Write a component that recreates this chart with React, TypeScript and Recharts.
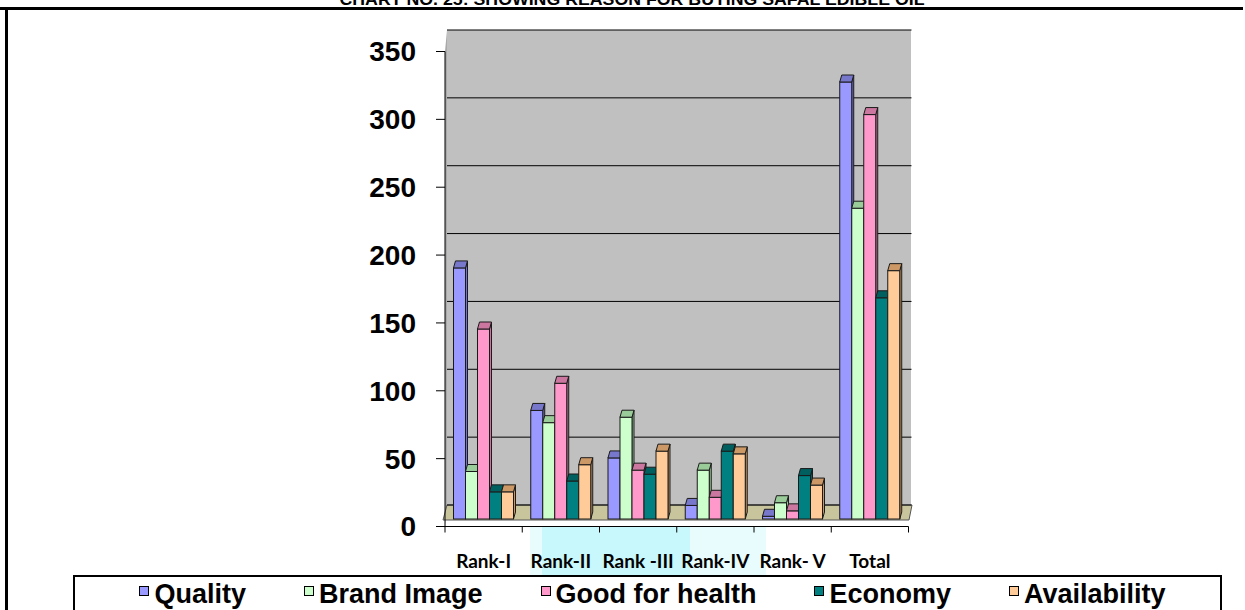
// Reason for buying Safal edible oil — clustered columns with a faux 3D look
// (grey back wall, tan floor, columns with a darker top cap).
import { Bar, BarChart, CartesianGrid, Legend, XAxis, YAxis } from 'recharts'

const categories = ['Rank-I', 'Rank-II', 'Rank -III', 'Rank-IV', 'Rank- V', 'Total']
const quality = [185, 80, 45, 10, 2, 322]
const brandImage = [35, 71, 75, 36, 12, 229]
const goodForHealth = [140, 100, 36, 16, 6, 298]
const economy = [20, 28, 33, 50, 32, 163]
const availability = [20, 40, 50, 48, 25, 183]
const yTicks = [0, 50, 100, 150, 200, 250, 300, 350]

const data = categories.map((name, i) => ({
  name,
  quality: quality[i],
  brand: brandImage[i],
  health: goodForHealth[i],
  economy: economy[i],
  avail: availability[i],
}))

// face colour + darker cap colour, same palette as the old Excel 3D chart
const SERIES = [
  { key: 'quality', name: 'Quality', face: '#9999ff', top: '#7777cc' },
  { key: 'brand', name: 'Brand Image', face: '#ccffcc', top: '#99cc99' },
  { key: 'health', name: 'Good for health', face: '#ff99cc', top: '#cc779f' },
  { key: 'economy', name: 'Economy', face: '#008080', top: '#006060' },
  { key: 'avail', name: 'Availability', face: '#ffcc99', top: '#cc9966' },
]
const ORDER = SERIES.map((s) => s.name)

const LIFT = 7.5 // columns stand on the floor, a bit above the axis line
const DX = 2 // depth of the cap
const DY = 7
const WALL_DX = 2
const WALL_DY = 21.5
const EDGE = '#1a1a1a'

function Column3D(props: any) {
  const { x, y, width, height, fill, top } = props
  if (x == null || width == null) return null
  const y0 = y - LIFT
  const h = Math.max(height, 0)
  const r = x + width
  return (
    <g>
      <polygon
        points={`${r},${y0} ${r + DX},${y0 - DY} ${r + DX},${y0 + h - DY} ${r},${y0 + h}`}
        fill={top}
        stroke={EDGE}
        strokeWidth={1}
      />
      <rect x={x} y={y0} width={width} height={h} fill={fill} stroke={EDGE} strokeWidth={1} />
      <polygon
        points={`${x},${y0} ${r},${y0} ${r + DX},${y0 - DY} ${x + DX},${y0 - DY}`}
        fill={top}
        stroke={EDGE}
        strokeWidth={1}
      />
    </g>
  )
}

/** カテゴリ名＋カテゴリ境界の目盛り線 */
function CatTick(props: any) {
  const { x, y, payload, index, width, visibleTicksCount } = props
  const band = width / visibleTicksCount
  return (
    <g>
      <line x1={x - band / 2} x2={x - band / 2} y1={y} y2={y + 6} stroke="#000" />
      {index === visibleTicksCount - 1 && (
        <line x1={x + band / 2} x2={x + band / 2} y1={y} y2={y + 6} stroke="#000" />
      )}
      <text
        x={x}
        y={y + 41}
        textAnchor="middle"
        fill="#000"
        style={{ fontFamily: 'Lato, sans-serif', fontWeight: 700, fontSize: 19 }}
      >
        {payload.value}
      </text>
    </g>
  )
}

function LegendBox({ payload }: any) {
  const items = [...(payload || [])].sort(
    (a: any, b: any) => ORDER.indexOf(a.value) - ORDER.indexOf(b.value),
  )
  return (
    <div
      style={{
        boxSizing: 'border-box',
        width: '100%',
        height: '100%',
        border: '2px solid #000',
        background: '#fff',
        display: 'flex',
        justifyContent: 'center',
        gap: 58,
        paddingTop: 2,
        paddingLeft: 10,
      }}
    >
      {items.map((p: any) => (
        <div key={p.value} style={{ display: 'flex', alignItems: 'center', height: 30 }}>
          <span
            style={{
              display: 'inline-block',
              width: 8,
              height: 8,
              border: '1.5px solid #000',
              background: p.color,
              marginRight: 5,
              transform: 'translateY(-3px)',
            }}
          />
          <span
            style={{
              fontFamily: '"Liberation Sans", Arial, sans-serif',
              fontWeight: 700,
              fontSize: 27,
              lineHeight: '30px',
              color: '#000',
            }}
          >
            {p.value}
          </span>
        </div>
      ))}
    </div>
  )
}

export default function App() {
  return (
    <div
      style={{
        position: 'absolute',
        left: 0,
        top: 0,
        width: 1245,
        height: 610,
        overflow: 'hidden',
        background: '#fff',
      }}
    >
      {/* frame, title, wall, floor, selection tint */}
      <svg width={1245} height={610} style={{ position: 'absolute', left: 0, top: 0 }}>
        <rect x={530} y={527} width={236} height={83} fill="#e8fcfd" />
        <rect x={542} y={527} width={148} height={48} fill="#c9f8fc" />
        <text
          x={632}
          y={5}
          textAnchor="middle"
          textLength={585}
          lengthAdjust="spacingAndGlyphs"
          style={{ fontFamily: '"Liberation Sans", Arial, sans-serif', fontWeight: 700, fontSize: 17 }}
        >
          CHART NO. 25: SHOWING REASON FOR BUYING SAFAL EDIBLE OIL
        </text>
        <rect x={0} y={7} width={1243} height={3} fill="#000" />
        <rect x={5} y={8} width={3} height={602} fill="#000" />
        <rect x={447} y={30} width={464} height={475} fill="#c0c0c0" />
        <polygon points="445,51.5 447,30 447,505 445,526.5" fill="#a9a9a9" />
        <polygon points="447,505 912,505 909,520 443,520" fill="#c8c49c" stroke="#555" strokeWidth={1} />
      </svg>

      <div style={{ position: 'absolute', left: 0, top: 0 }}>
        <BarChart
          width={1245}
          height={610}
          data={data}
          margin={{ top: 51.5, right: 336.5, left: 365, bottom: 43.5 }}
          barCategoryGap="11%"
          barGap={0}
        >
          <CartesianGrid
            vertical={false}
            horizontal={(p: any) => (
              <line
                key={p.key}
                x1={p.x1 + WALL_DX}
                x2={p.x2 + WALL_DX + 1}
                y1={p.y1 - WALL_DY}
                y2={p.y2 - WALL_DY}
                stroke="#000"
                strokeWidth={1}
              />
            )}
          />
          <XAxis
            dataKey="name"
            interval={0}
            height={40}
            tickLine={false}
            tickSize={0}
            tickMargin={0}
            axisLine={{ stroke: '#000' }}
            tick={(p: any) => <CatTick {...p} />}
          />
          <YAxis
            domain={[0, 350]}
            ticks={yTicks}
            width={80}
            tickSize={9}
            tickMargin={20}
            tickLine={{ stroke: '#000' }}
            axisLine={{ stroke: '#000' }}
            tick={{
              fill: '#000',
              fontSize: 28,
              fontWeight: 700,
              fontFamily: '"Liberation Sans", Arial, sans-serif',
            }}
          />
          <Legend
            layout="horizontal"
            verticalAlign="middle"
            content={<LegendBox />}
            wrapperStyle={{ left: 73, top: 575, width: 1149, height: 45 }}
          />
          {SERIES.map((s) => (
            <Bar
              key={s.key}
              dataKey={s.key}
              name={s.name}
              fill={s.face}
              isAnimationActive={false}
              shape={(p: any) => <Column3D {...p} top={s.top} />}
            />
          ))}
        </BarChart>
      </div>
    </div>
  )
}
